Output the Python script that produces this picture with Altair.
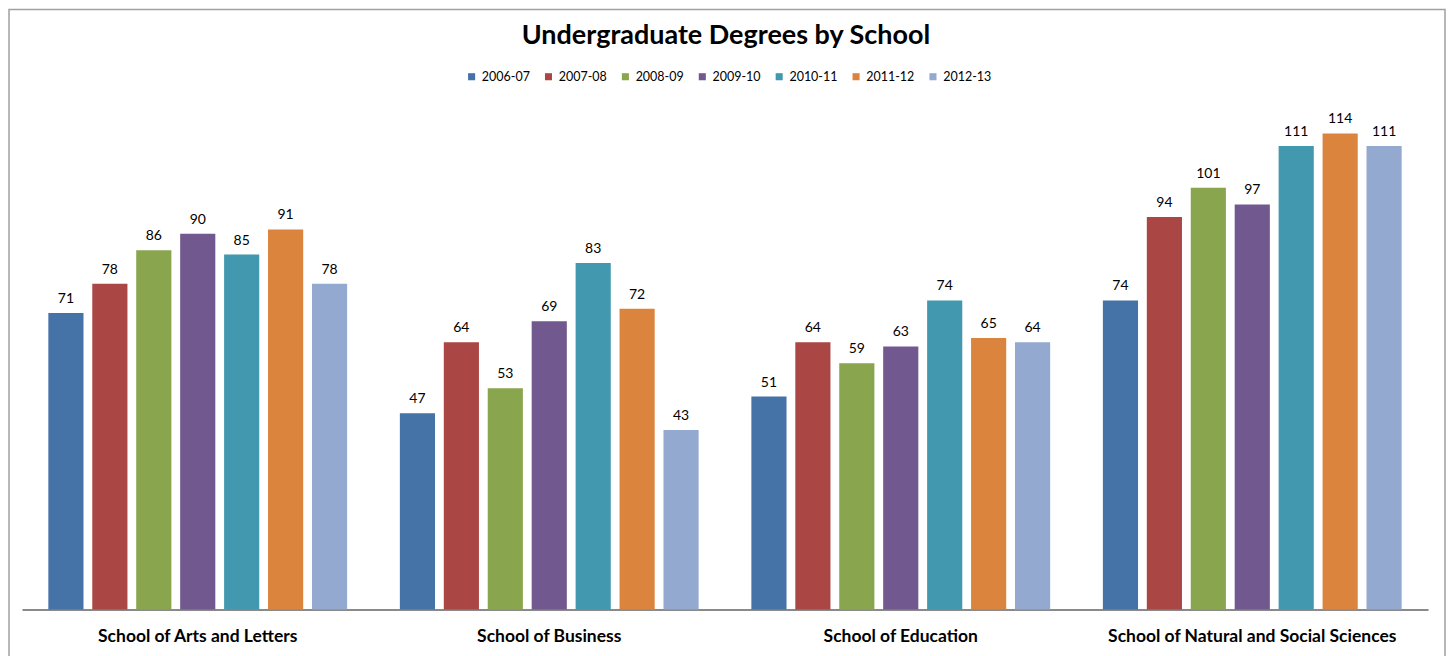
import altair as alt
import pandas as pd

schools = ["School of Arts and Letters", "School of Business",
           "School of Education", "School of Natural and Social Sciences"]
years = ["2006-07", "2007-08", "2008-09", "2009-10", "2010-11", "2011-12", "2012-13"]
arts = [71, 78, 86, 90, 85, 91, 78]
business = [47, 64, 53, 69, 83, 72, 43]
education = [51, 64, 59, 63, 74, 65, 64]
natural = [74, 94, 101, 97, 111, 114, 111]
colors = ["#4572A7", "#AA4643", "#89A54E", "#71588F", "#4198AF", "#DB843D", "#93A9CF"]
title_text = "Undergraduate Degrees by School"

rows = []
for s, vals in zip(schools, [arts, business, education, natural]):
    for y, v in zip(years, vals):
        rows.append({"School": s, "Year": y, "Degrees": v})
df = pd.DataFrame(rows)

FONT = "Lato"

x = alt.X("School:N", sort=schools, title=None,
          scale=alt.Scale(paddingInner=0, paddingOuter=0),
          axis=alt.Axis(labelAngle=0, labelFontSize=17.5, labelFontWeight="bold",
                        labelColor="#000000", labelFont=FONT, ticks=False, labelLimit=0,
                        domainColor="#8a8a8a", domainWidth=2, labelPadding=18))
xo = alt.XOffset("Year:N", sort=years,
                 scale=alt.Scale(paddingInner=0.2, paddingOuter=0.6))
y = alt.Y("Degrees:Q", scale=alt.Scale(domain=[0, 120], nice=False), axis=None)

bars = alt.Chart(df).mark_bar().encode(
    x=x, xOffset=xo, y=y,
    color=alt.Color("Year:N", sort=years,
                    scale=alt.Scale(domain=years, range=colors),
                    legend=alt.Legend(title=None, orient="none", direction="horizontal",
                                      legendX=444, legendY=-38,
                                      symbolType="square", symbolSize=50,
                                      symbolStrokeWidth=0,
                                      labelFontSize=12.5, labelFont=FONT,
                                      labelColor="#000000",
                                      columnPadding=12, labelOffset=4)),
)

labels = alt.Chart(df).mark_text(baseline="bottom", dy=-7, fontSize=14,
                                 font=FONT, color="#000000").encode(
    x=x, xOffset=xo, y=y, text="Degrees:Q")

border = alt.Chart(pd.DataFrame({"a": [0]})).mark_rect(
    fill=None, stroke="#a0a0a0", strokeWidth=1.5).encode(
    x=alt.value(-13), x2=alt.value(1425), y=alt.value(-99), y2=alt.value(560))

title = alt.Chart(pd.DataFrame({"t": [title_text]})).mark_text(
    fontSize=27, font=FONT, fontWeight="bold", color="#000000",
    align="center", baseline="alphabetic").encode(
    text="t:N", x=alt.value(705), y=alt.value(-64))

chart = alt.layer(border, bars, labels, title).properties(
    width=1408, height=502,
    padding={"left": 14, "top": 100, "right": 18, "bottom": 46},
    autosize=alt.AutoSizeParams(type="none"),
).configure_view(stroke=None)

chart.save("out.html", embed_options={"renderer": "svg", "actions": False})
